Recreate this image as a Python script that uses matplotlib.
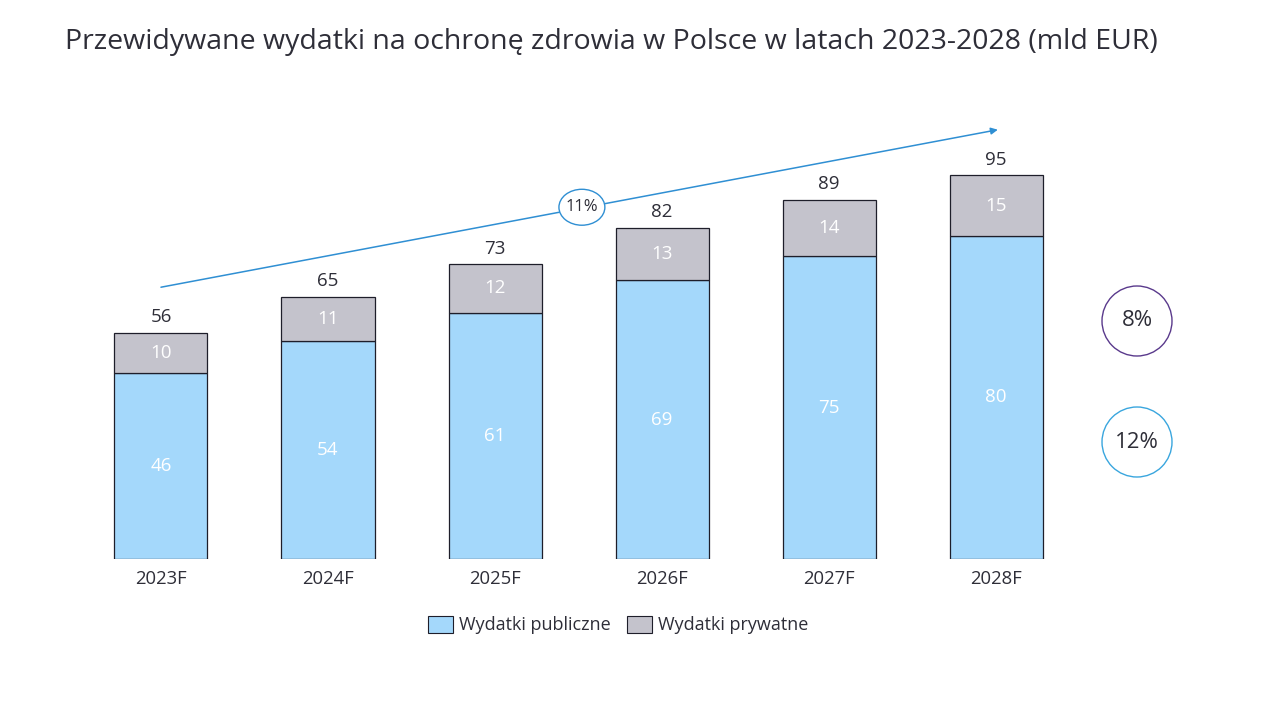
import matplotlib

matplotlib.use("Agg")

import matplotlib.pyplot as plt
from matplotlib.patches import Ellipse, Patch
import numpy as np

# data
years = ["2023F", "2024F", "2025F", "2026F", "2027F", "2028F"]
public = [46, 54, 61, 69, 75, 80]
private = [10, 11, 12, 13, 14, 15]
totals = [56, 65, 73, 82, 89, 95]
cagr_total = "11%"
cagr_private = "8%"
cagr_public = "12%"

C_PUBLIC = "#A4D8FB"
C_PRIVATE = "#C4C3CC"
C_EDGE = "#1E1E2A"
C_TEXT = "#2E2E38"
C_ARROW = "#2F8FD3"
C_PURPLE = "#5A3A8C"
C_BLUE = "#3AA6DE"

plt.rcParams["font.family"] = ["Open Sans", "DejaVu Sans"]

fig = plt.figure(figsize=(12.8, 7.2), dpi=100)
ax = fig.add_axes([0.0605, 0.2236, 0.783, 0.617])

x = np.arange(len(years))
width = 0.557
ax.bar(x, public, width=width, color=C_PUBLIC, edgecolor=C_EDGE, linewidth=0.9, zorder=2)
ax.bar(x, private, width=width, bottom=public, color=C_PRIVATE, edgecolor=C_EDGE,
       linewidth=0.9, zorder=2)

for xi, pub, prv, tot in zip(x, public, private, totals):
    ax.text(xi, pub / 2, str(pub), ha="center", va="center", color="white", fontsize=13.5)
    ax.text(xi, pub + prv / 2, str(prv), ha="center", va="center", color="white", fontsize=13.5)
    ax.text(xi, tot + 1.6, str(tot), ha="center", va="bottom", color=C_TEXT, fontsize=13.5)

ax.set_xlim(-0.5, len(years) - 0.5)
ax.set_ylim(0, 110)
ax.set_xticks(x, years)
ax.tick_params(axis="x", length=0, pad=8, labelsize=13.3, labelcolor=C_TEXT)
ax.set_yticks([])
for side in ax.spines.values():
    side.set_visible(False)

# growth arrow across the bars
ax.annotate("", xy=(5.01, 106.3), xytext=(0.0, 67.3),
            arrowprops=dict(arrowstyle="-|>", color=C_ARROW, lw=1.1,
                            mutation_scale=10, shrinkA=0, shrinkB=0),
            annotation_clip=False, zorder=3)
ax.add_patch(Ellipse((2.52, 87.1), 0.275, 8.9, facecolor="white", edgecolor=C_ARROW,
                     linewidth=1.0, zorder=4, clip_on=False))
ax.text(2.52, 87.1, cagr_total, ha="center", va="center", color=C_TEXT, fontsize=12,
        zorder=5)

# CAGR circles on the right
for yc, label, col in [(321, cagr_private, C_PURPLE), (442, cagr_public, C_BLUE)]:
    cx, cy = 1137 / 1280, 1 - yc / 720
    fig.add_artist(Ellipse((cx, cy), 70 / 1280, 70 / 720, transform=fig.transFigure,
                           facecolor="none", edgecolor=col, linewidth=1.0))
    fig.text(cx, cy, label, ha="center", va="center", color=C_TEXT, fontsize=16)

fig.text(65 / 1280, 1 - 42 / 720, "Przewidywane wydatki na ochronę zdrowia w Polsce w latach 2023-2028 (mld EUR)",
         ha="left", va="center", color=C_TEXT, fontsize=20.5)

handles = [Patch(facecolor=C_PUBLIC, edgecolor=C_EDGE, linewidth=0.8, label="Wydatki publiczne"),
           Patch(facecolor=C_PRIVATE, edgecolor=C_EDGE, linewidth=0.8, label="Wydatki prywatne")]
fig.legend(handles=handles, loc="center", bbox_to_anchor=(618 / 1280, 1 - 625 / 720),
           ncol=2, frameon=False, fontsize=13, handlelength=1.4, handleheight=1.1,
           handletextpad=0.3, columnspacing=0.9, labelcolor=C_TEXT)

fig.savefig("out.png", dpi=100, facecolor="white")
